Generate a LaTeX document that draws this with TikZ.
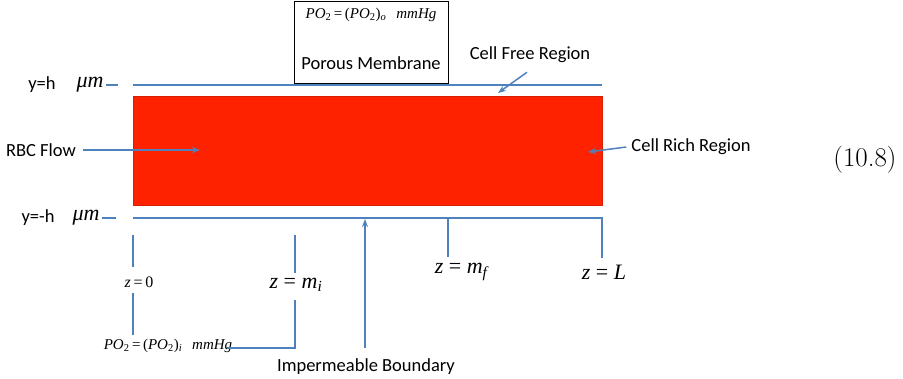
\documentclass[tikz,border=0pt]{standalone}
\usepackage{fontspec}
\usetikzlibrary{arrows.meta}
\newfontfamily\lblfont{Carlito}
\newfontfamily\tmsfont{Liberation Serif}
\definecolor{wallblue}{RGB}{79,129,189}
\definecolor{rbcred}{RGB}{255,34,0}
\newcommand\poval[1]{{\itshape PO}\textsubscript{2}\,=\,({\itshape PO}\textsubscript{2})\textsubscript{\itshape #1}\enspace\,{\itshape mmHg}}
\tikzset{
  wall/.style={draw=wallblue, line width=1.5pt},
  pointer/.style={wall, -{Stealth[length=8pt,width=6pt]}},
  lbl/.style={font=\lblfont\fontsize{18.5}{20}\selectfont, inner sep=1pt},
  formula/.style={font=\tmsfont\fontsize{15}{17}\selectfont, inner sep=0pt},
  bigformula/.style={font=\tmsfont\fontsize{22}{24}\selectfont, inner sep=1pt},
  core/.style={fill=rbcred, draw=rbcred!85!black, line width=0.4pt, inner sep=0pt}
}
\begin{document}
\begin{tikzpicture}[x=1pt,y=-1pt]
\useasboundingbox (0,0) rectangle (903,378);
% channel
\node[core, minimum width=469pt, minimum height=109pt] (core) at (367.5,151) {};
\coordinate (topL) at (133,85);
\coordinate (topR) at (602,85);
\coordinate (botL) at (133,218);
\coordinate (botR) at (602,218);
\draw[wall] (topL) -- (topR);
% membrane
\node[draw, line width=0.8pt, minimum width=154pt, minimum height=82pt, inner sep=0pt] (membrane) at (371,42) {};
\node[formula] (poo) at (371,15) {\poval{o}};
\node[lbl] (pm) at (371,63) {Porous Membrane};
% walls
\node[lbl] (yh) at (42,85) {y=h};
\node[bigformula, inner sep=2pt] (umtop) at (90,85) {\textit{μm}};
\draw[wall] (umtop.east) -- ++(12,0);
\node[lbl] (ymh) at (38,218) {y=-h};
\node[bigformula, inner sep=2pt] (umbot) at (86,218) {\textit{μm}};
\draw[wall] (umbot.east) -- ++(14,0);
\coordinate (zLfoot) at (602,258);
\draw[wall] (botL) -- (botR) -- (zLfoot);
% regions
\node[lbl] (free) at (530,55) {Cell Free Region};
\coordinate (freetip) at (498,93);
\draw[pointer] ([shift={(-3,8)}]free.south) -- (freetip);
\node[lbl] (rich) at (691,147) {Cell Rich Region};
\coordinate (richtip) at (588,152);
\draw[pointer] ([xshift=-4pt]rich.west) -- (richtip);
\node[lbl] (rbc) at (41,150) {RBC Flow};
\coordinate (rbctip) at (200,150);
\draw[pointer] ([xshift=6pt]rbc.east) -- (rbctip);
% z positions
\node[formula, font=\tmsfont\fontsize{16}{18}\selectfont] (zzero) at (139,282) {\textit{z}\,=\,0};
\coordinate (z0a) at (133,235);
\coordinate (z0b) at (133,267);
\coordinate (z0c) at (133,293);
\coordinate (z0d) at (133,335);
\draw[wall] (z0a) -- (z0b);
\draw[wall] (z0c) -- (z0d);
\node[bigformula] (zmi) at (296,285) {\textit{z} = \textit{m}\textsubscript{\textit{i}}};
\coordinate (mia) at (295,235);
\coordinate (mib) at (295,273);
\coordinate (mic) at (295,300);
\coordinate (mid) at (295,348);
\draw[wall] (mia) -- (mib);
\node[formula] (poi) at (168,346) {\poval{i}};
\draw[wall] (mic) -- (mid) -- ([xshift=-5pt]poi.east |- mid);
\coordinate (mfa) at (448,218);
\coordinate (mfb) at (448,257);
\draw[wall] (mfa) -- (mfb);
\node[bigformula] (zmf) at (462,272) {\textit{z} = \textit{m}\textsubscript{\textit{f}}};
\node[bigformula] (zL) at (604,272) {\textit{z} = \textit{L}};
% impermeable boundary
\node[lbl] (imp) at (366,367) {Impermeable Boundary};
\coordinate (impfoot) at (365,348);
\coordinate (imptip) at (365,219);
\draw[pointer] (impfoot) -- (imptip);
% equation number
\node[font=\fontsize{27}{30}\selectfont, inner sep=0pt] (eqno) at (865,160) {(10.8)};
\end{tikzpicture}
\end{document}
